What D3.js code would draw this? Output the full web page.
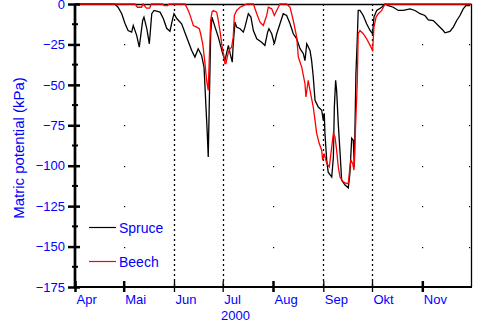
<!DOCTYPE html>
<html>
<head>
<meta charset="utf-8">
<script src="https://cdn.jsdelivr.net/npm/d3@7"></script>
<style>
  body { margin: 0; background: #fff; }
  text { font-family: "Liberation Sans", Arial, sans-serif; fill: #0000ff; }
</style>
</head>
<body>
<div id="chart"></div>
<script>
// days since 1 Apr 2000, matric potential in kPa
const spruceDays = [0, 24.6, 26.5, 28.8, 30.8, 32.7, 34.9, 35.9, 38, 39.6, 41.7, 42.5, 44.2, 45.8, 47.3, 48.7, 52.4, 54.4, 56.5, 58.5, 60.2, 61, 62.7, 65.7, 68.8, 71.9, 73.9, 75.9, 78, 79.5, 80.7, 81.5, 82.1, 82.7, 83.6, 84.4, 86.3, 88.3, 91, 92.4, 94.5, 95.6, 96.9, 97.5, 98.6, 99.6, 101.7, 103.7, 104.7, 106.8, 108.4, 109.9, 112, 115, 117, 118.7, 119.5, 121.2, 122.8, 124.3, 126.3, 128.3, 130.4, 132.5, 134.5, 136.6, 138.6, 140.7, 141.7, 142.8, 144.8, 145.8, 146.8, 147.9, 149.9, 152, 153, 153.6, 154, 155.1, 156, 158.2, 159.2, 159.8, 160.6, 161.2, 162.2, 163.3, 164.3, 166.4, 168.4, 169.4, 170.5, 171.5, 172.1, 173.1, 173.9, 174.5, 175.6, 177.6, 179.7, 181.8, 183.4, 184.2, 185.9, 189, 191, 193, 196.1, 199.2, 202.3, 206.4, 209.5, 212.6, 215.6, 217.7, 220.8, 223.8, 226.9, 228, 231, 233.1, 235.2, 237.2, 239.2, 240.9, 243.4];
const spruceKPa = [0, 0, -2, -6, -12, -16.4, -17.4, -13.3, -19.4, -26.7, -10.2, -8.1, -15, -24.6, -6, -4, -5, -9, -15, -16.8, -9, -6, -9, -12.2, -20.5, -28.7, -32.8, -27.7, -31.8, -39, -63.7, -80, -94.6, -63.7, -18.4, -8.1, -14.3, -20.5, -30.7, -34.9, -25.6, -30.7, -36, -24.6, -11.2, -14.3, -15.3, -17.4, -14.3, -6, -8.1, -16.4, -21.5, -23.6, -25.6, -17.4, -15.3, -18.4, -24.6, -18.4, -12.2, -6, -7.1, -12.2, -18.4, -21.5, -27.5, -30.7, -35, -24.6, -28.7, -35, -45, -59.6, -63.7, -65.7, -72, -67.6, -80, -96.6, -104, -107, -94.6, -63.7, -47.2, -53.4, -73.8, -91.7, -109, -112, -113.7, -104.6, -83, -84.3, -100.7, -42.9, -22.5, -4, -4, -7.1, -12.2, -16.4, -18.4, -8.1, -4, -2, 0, -1, -2, -4, -4, -3, -4, -6, -7.1, -9.8, -10.2, -13.3, -16.4, -17.8, -17, -14.3, -10.2, -7.1, -3, -1, -1];

const beechDays = [0, 37, 38.5, 41, 42, 44, 46, 47, 54, 55, 57, 58, 67.8, 69.8, 71.3, 72.9, 75, 76.6, 77.4, 78.7, 80.1, 81.1, 82.1, 82.7, 83.6, 84.4, 85.2, 87.3, 88.3, 89.3, 90.4, 91.8, 92.4, 93, 94.5, 95.5, 96.5, 97.5, 98.2, 99.6, 101.7, 103.7, 105.8, 109.9, 112, 114, 116, 118.1, 119.1, 121.2, 122.8, 124.3, 126.3, 130.4, 132.5, 134.5, 136.6, 137.6, 139.7, 141.7, 142.3, 143.7, 144.8, 146.8, 147.9, 148.9, 150.5, 152, 152.6, 153.6, 155.1, 156.7, 159.2, 160.2, 161.2, 162.2, 163.3, 165.3, 167.4, 168.4, 169.4, 170, 171.1, 171.9, 173.1, 173.9, 174.5, 175.6, 177.6, 179.7, 181.8, 183.4, 184.2, 185.5, 186.9, 189, 191, 244];
const beechKPa = [0, 0, -2, -2, 0, -2.5, -2.5, 0, 0, -1, -1, 0, 0, -4, -8.1, -13.3, -14.3, -15.3, -18.4, -24.6, -36.9, -47.2, -53.4, -34.9, -10.2, -5, -4, -5, -10.2, -16.4, -24.6, -32.8, -36.9, -36.9, -29.8, -27.7, -26.7, -20.5, -7.1, -4, -2, -1, 0, 0, -6, -11.2, -13.3, -7.1, -2, -3, -7.1, -4, 0, 0, -2, -10.2, -20.5, -32.8, -39, -49.3, -57.5, -47.2, -53.4, -63.7, -72, -80, -86.3, -90.4, -96.6, -92.5, -98.6, -100.7, -80, -82.2, -90.4, -100.7, -107, -110, -111, -111, -100.7, -96.6, -98.6, -102.8, -69.9, -49.3, -18.4, -16.4, -18.4, -21.5, -25.6, -28.7, -14.3, -8.1, -6, -4, 0, 0];

const months = ['Apr', 'Mai', 'Jun', 'Jul', 'Aug', 'Sep', 'Okt', 'Nov'];
const majorMonths = ['Apr', 'Mai', 'Aug', 'Nov'];
const dottedMonths = ['Jun', 'Jul', 'Sep', 'Okt'];
const yTicks = [0, -25, -50, -75, -100, -125, -150, -175];
const yMinorTicks = [-12.5, -37.5, -62.5, -87.5, -112.5, -137.5, -162.5];

const width = 480, height = 336;
const plot = { left: 75, right: 471, top: 4, bottom: 287 };

const start = new Date(Date.UTC(2000, 3, 1));
const end = new Date(Date.UTC(2000, 11, 1));
const toDate = (d) => new Date(start.getTime() + d * 864e5);
const monthDates = months.map((m, i) => new Date(Date.UTC(2000, 3 + i, 1)));

const x = d3.scaleUtc().domain([start, end]).range([plot.left, plot.right]);
const y = d3.scaleLinear().domain([-175, 0]).range([plot.bottom, plot.top]);

const svg = d3.select('#chart')
  .append('svg')
  .attr('width', width)
  .attr('height', height);

// dotted month lines
svg.append('g')
  .selectAll('line')
  .data(monthDates.filter((d, i) => dottedMonths.includes(months[i])))
  .join('line')
  .attr('x1', (d) => Math.round(x(d)) + 0.5)
  .attr('x2', (d) => Math.round(x(d)) + 0.5)
  .attr('y1', plot.top)
  .attr('y2', plot.bottom)
  .attr('stroke', '#000')
  .attr('stroke-width', 1.3)
  .attr('stroke-dasharray', '2,3');

// grid dots at major months
const dotMonths = monthDates.filter((d, i) => ['Mai', 'Aug', 'Nov'].includes(months[i]));
const dots = [];
dotMonths.forEach((m) => yTicks.slice(1, -1).forEach((v) => dots.push([m, v])));
svg.append('g')
  .selectAll('rect')
  .data(dots)
  .join('rect')
  .attr('x', (d) => Math.round(x(d[0])))
  .attr('y', (d) => Math.round(y(d[1])))
  .attr('width', 1.2)
  .attr('height', 1.2)
  .attr('fill', '#000');

svg.append('g')
  .selectAll('rect')
  .data(yTicks.slice(1, -1))
  .join('rect')
  .attr('x', plot.right - 2)
  .attr('y', (d) => Math.round(y(d)))
  .attr('width', 1.2)
  .attr('height', 1.2)
  .attr('fill', '#000');

// frame: top and right
svg.append('path')
  .attr('d', `M${plot.left},${plot.top + 0.5}H${plot.right + 0.5}V${plot.bottom}`)
  .attr('fill', 'none')
  .attr('stroke', '#000')
  .attr('stroke-width', 1.3);

const line = d3.line()
  .x((d) => x(toDate(d[0])))
  .y((d) => y(d[1]));

const spruce = spruceDays.map((d, i) => [d, spruceKPa[i]]);
const beech = beechDays.map((d, i) => [d, beechKPa[i]]);

svg.append('path')
  .datum(spruce)
  .attr('d', line)
  .attr('fill', 'none')
  .attr('stroke', '#000')
  .attr('stroke-width', 1.3);

svg.append('path')
  .datum(beech)
  .attr('d', line)
  .attr('fill', 'none')
  .attr('stroke', '#ff0000')
  .attr('stroke-width', 1.3);

// y axis
const yAxis = svg.append('g')
  .attr('transform', `translate(${plot.left},0)`)
  .call(d3.axisLeft(y).tickValues(yTicks).tickSize(7).tickPadding(3));
yAxis.select('.domain').remove();
yAxis.selectAll('.tick line')
  .attr('x1', 5)
  .attr('stroke', '#000')
  .attr('stroke-width', 2.5);
yAxis.selectAll('.tick text')
  .attr('font-size', 13)
  .attr('font-family', '"Liberation Sans", Arial, sans-serif')
  .attr('fill', '#0000ff');

svg.append('g')
  .selectAll('line')
  .data(yMinorTicks)
  .join('line')
  .attr('x1', plot.left - 3)
  .attr('x2', plot.left + 3)
  .attr('y1', (d) => y(d))
  .attr('y2', (d) => y(d))
  .attr('stroke', '#000')
  .attr('stroke-width', 2);

svg.append('line')
  .attr('x1', plot.left)
  .attr('x2', plot.left)
  .attr('y1', plot.top)
  .attr('y2', plot.bottom + 1)
  .attr('stroke', '#000')
  .attr('stroke-width', 2.7);

// x axis
const xAxis = svg.append('g')
  .attr('transform', `translate(0,${plot.bottom})`)
  .call(d3.axisBottom(x).tickValues(monthDates).tickSize(5).tickFormat((d, i) => months[i]));
xAxis.select('.domain').remove();
xAxis.selectAll('.tick line')
  .attr('y1', -6)
  .attr('stroke', '#000')
  .attr('stroke-width', (d, i) => (majorMonths.includes(months[i]) ? 2.5 : 1.3));
xAxis.selectAll('.tick text')
  .attr('text-anchor', 'start')
  .attr('x', 1)
  .attr('y', 8)
  .attr('font-size', 13)
  .attr('font-family', '"Liberation Sans", Arial, sans-serif')
  .attr('fill', '#0000ff');

svg.append('line')
  .attr('x1', plot.left)
  .attr('x2', plot.right + 1)
  .attr('y1', plot.bottom)
  .attr('y2', plot.bottom)
  .attr('stroke', '#000')
  .attr('stroke-width', 2);

svg.append('text')
  .attr('x', 221)
  .attr('y', 320)
  .attr('font-size', 13)
  .text('2000');

svg.append('text')
  .attr('transform', `translate(20,148) rotate(-90)`)
  .attr('text-anchor', 'middle')
  .attr('dominant-baseline', 'middle')
  .attr('font-size', 15)
  .text('Matric potential (kPa)');

// legend
const legend = [
  { name: 'Spruce', color: '#000', y: 227.5 },
  { name: 'Beech', color: '#ff0000', y: 261.5 }
];
const lg = svg.append('g')
  .selectAll('g')
  .data(legend)
  .join('g');
lg.append('line')
  .attr('x1', 89)
  .attr('x2', 116)
  .attr('y1', (d) => d.y)
  .attr('y2', (d) => d.y)
  .attr('stroke', (d) => d.color)
  .attr('stroke-width', 1.2);
lg.append('text')
  .attr('x', 119)
  .attr('y', (d) => d.y + 5)
  .attr('font-size', 14)
  .text((d) => d.name);
</script>
</body>
</html>
